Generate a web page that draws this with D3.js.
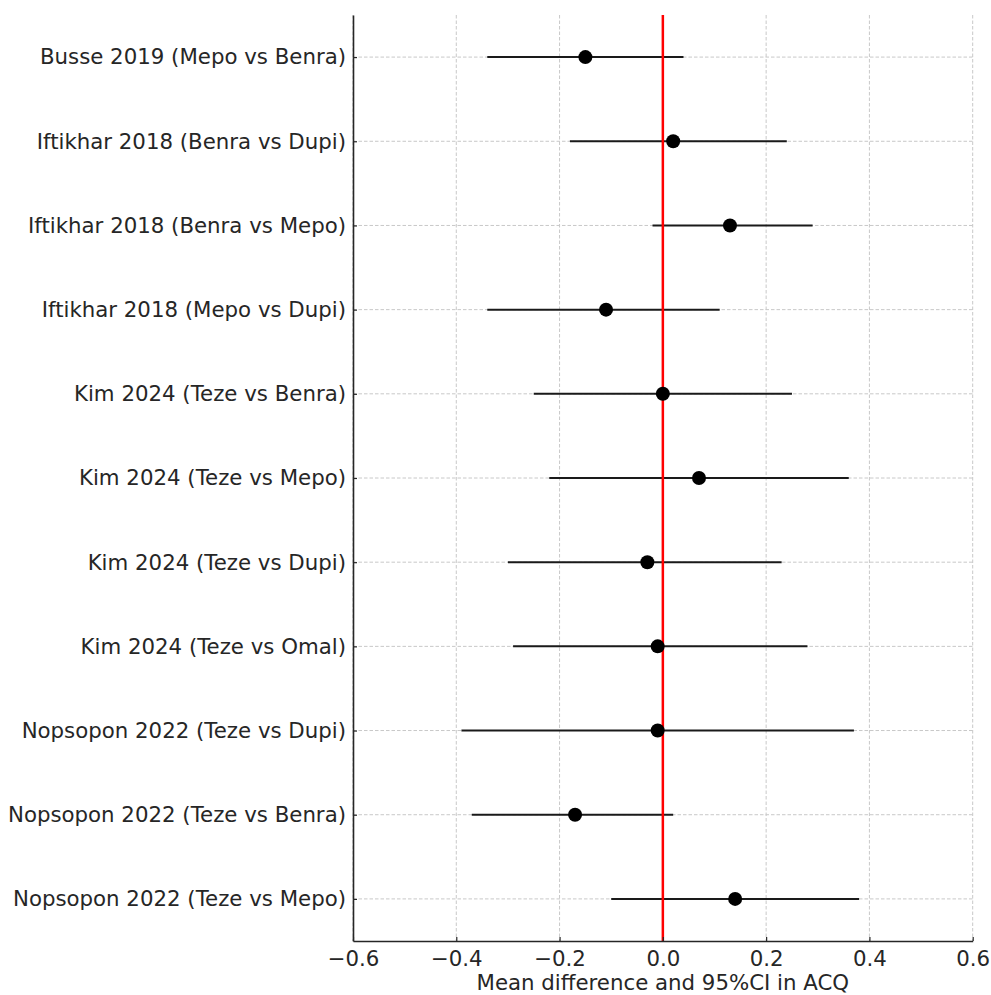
<!DOCTYPE html>
<html>
<head>
<meta charset="utf-8">
<script src="https://cdn.jsdelivr.net/npm/d3@7"></script>
<style>
  html, body { margin: 0; padding: 0; background: #fff; }
  svg { display: block; font-family: "DejaVu Sans", sans-serif; }
</style>
</head>
<body>
<svg id="chart" width="991" height="995"></svg>
<script>
// Study comparisons, top to bottom
const studies = [
  "Busse 2019 (Mepo vs Benra)",
  "Iftikhar 2018 (Benra vs Dupi)",
  "Iftikhar 2018 (Benra vs Mepo)",
  "Iftikhar 2018 (Mepo vs Dupi)",
  "Kim 2024 (Teze vs Benra)",
  "Kim 2024 (Teze vs Mepo)",
  "Kim 2024 (Teze vs Dupi)",
  "Kim 2024 (Teze vs Omal)",
  "Nopsopon 2022 (Teze vs Dupi)",
  "Nopsopon 2022 (Teze vs Benra)",
  "Nopsopon 2022 (Teze vs Mepo)"
];
// Mean difference in ACQ and its 95% CI bounds
const meanDiff = [-0.15, 0.02, 0.13, -0.11, 0.00, 0.07, -0.03, -0.01, -0.01, -0.17, 0.14];
const ciLower  = [-0.34, -0.18, -0.02, -0.34, -0.25, -0.22, -0.30, -0.29, -0.39, -0.37, -0.10];
const ciUpper  = [0.04, 0.24, 0.29, 0.11, 0.25, 0.36, 0.23, 0.28, 0.37, 0.02, 0.38];
const xTicks   = [-0.6, -0.4, -0.2, 0.0, 0.2, 0.4, 0.6];
const xLabel   = "Mean difference and 95%CI in ACQ";

const rows = studies.map((s, i) => ({ study: s, mean: meanDiff[i], lo: ciLower[i], hi: ciUpper[i], idx: i }));

const svg = d3.select("#chart");
const plotLeft = 353, plotRight = 972.7, plotTop = 15, plotBottom = 941;
const fontSize = "21.3px";

const x = d3.scaleLinear().domain([-0.6, 0.6]).range([plotLeft, plotRight]);
const y = d3.scaleLinear().domain([-0.5, studies.length - 0.5]).range([plotTop, plotBottom]);

const textColor = "#262626";
const gridColor = "#c8c8c8";

// Grid lines
const grid = svg.append("g");
grid.selectAll("line.vg").data(xTicks).join("line")
  .attr("class", "vg")
  .attr("x1", d => x(d)).attr("x2", d => x(d))
  .attr("y1", plotTop).attr("y2", plotBottom)
  .attr("stroke", gridColor).attr("stroke-width", 1).attr("stroke-dasharray", "3.5,2");
grid.selectAll("line.hg").data(rows).join("line")
  .attr("class", "hg")
  .attr("x1", plotLeft).attr("x2", plotRight)
  .attr("y1", d => y(d.idx)).attr("y2", d => y(d.idx))
  .attr("stroke", gridColor).attr("stroke-width", 1).attr("stroke-dasharray", "3.5,2");

// Confidence intervals
svg.append("g").selectAll("line").data(rows).join("line")
  .attr("x1", d => x(d.lo)).attr("x2", d => x(d.hi))
  .attr("y1", d => y(d.idx)).attr("y2", d => y(d.idx))
  .attr("stroke", "#1a1a1a").attr("stroke-width", 2);

// Zero reference line
svg.append("line")
  .attr("x1", x(0)).attr("x2", x(0))
  .attr("y1", plotTop).attr("y2", plotBottom)
  .attr("stroke", "#ff0000").attr("stroke-width", 2.5);

// Point estimates
svg.append("g").selectAll("circle").data(rows).join("circle")
  .attr("cx", d => x(d.mean)).attr("cy", d => y(d.idx))
  .attr("r", 7).attr("fill", "#000");

// X axis
const xAxis = d3.axisBottom(x).tickValues(xTicks).tickSizeInner(-4).tickSizeOuter(0)
  .tickPadding(10)
  .tickFormat(d => d3.format(".1f")(d).replace("-", "\u2212"));
const gx = svg.append("g").attr("transform", `translate(0,${plotBottom})`).call(xAxis);
gx.select(".domain").attr("stroke", textColor).attr("stroke-width", 1.6);
gx.selectAll(".tick line").attr("stroke", textColor).attr("stroke-width", 1.2);
gx.selectAll(".tick text").attr("fill", textColor).style("font-size", fontSize)
  .style("font-family", "'DejaVu Sans', sans-serif");

// Y axis
const yAxis = d3.axisLeft(y).tickValues(rows.map(d => d.idx)).tickSizeInner(-4).tickSizeOuter(0)
  .tickPadding(7)
  .tickFormat(i => studies[i]);
const gy = svg.append("g").attr("transform", `translate(${plotLeft},0)`).call(yAxis);
gy.select(".domain").attr("stroke", textColor).attr("stroke-width", 1.6);
gy.selectAll(".tick line").attr("stroke", textColor).attr("stroke-width", 1.2);
gy.selectAll(".tick text").attr("fill", textColor).style("font-size", fontSize)
  .style("font-family", "'DejaVu Sans', sans-serif");

// Axis title
svg.append("text")
  .attr("x", (plotLeft + plotRight) / 2).attr("y", 990)
  .attr("text-anchor", "middle")
  .attr("fill", textColor)
  .style("font-size", fontSize)
  .text(xLabel);
</script>
</body>
</html>
